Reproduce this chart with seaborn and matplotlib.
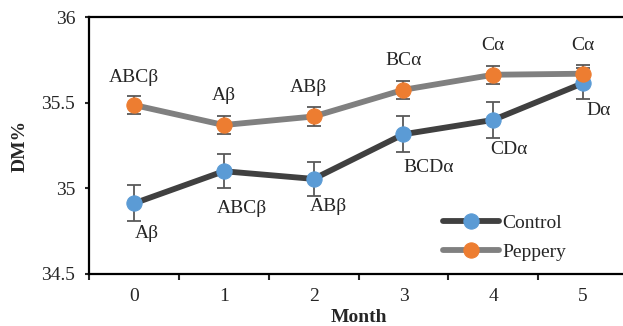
import numpy as np
import pandas as pd
import seaborn as sns
import matplotlib
matplotlib.use("Agg")
import matplotlib.pyplot as plt
from matplotlib.ticker import FixedLocator

months = [0, 1, 2, 3, 4, 5]
control = [34.912, 35.10, 35.055, 35.316, 35.40, 35.615]
control_err = [0.105, 0.10, 0.10, 0.105, 0.105, 0.09]
peppery = [35.487, 35.37, 35.42, 35.576, 35.664, 35.67]
peppery_err = [0.052, 0.053, 0.054, 0.053, 0.052, 0.05]
control_labels = ["Aβ", "ABCβ", "ABβ", "BCDα", "CDα", "Dα"]
peppery_labels = ["ABCβ", "Aβ", "ABβ", "BCα", "Cα", "Cα"]

sns.set_style("ticks")
plt.rcParams['font.family'] = ['Liberation Serif', 'DejaVu Serif']
plt.rcParams['font.size'] = 14

df = pd.DataFrame({"Month": months * 2,
                   "DM": control + peppery,
                   "Group": ["Control"] * 6 + ["Peppery"] * 6})

fig = plt.figure(figsize=(6.23, 3.26), dpi=100)
ax = fig.add_axes([0.143, 0.16, 0.865, 0.787])

# error bars behind the lines
ax.errorbar(months, control, yerr=control_err, fmt='none', ecolor='#595959',
            elinewidth=1.3, capsize=5, capthick=1.3, zorder=1)
ax.errorbar(months, peppery, yerr=peppery_err, fmt='none', ecolor='#595959',
            elinewidth=1.3, capsize=5, capthick=1.3, zorder=1)

sns.lineplot(data=df[df.Group == "Control"], x="Month", y="DM", ax=ax,
             color='#404040', linewidth=4.2, marker='o', markersize=11,
             markerfacecolor='#5B9BD5', markeredgecolor='#5B9BD5',
             label="Control", zorder=3)
sns.lineplot(data=df[df.Group == "Peppery"], x="Month", y="DM", ax=ax,
             color='#808080', linewidth=4.2, marker='o', markersize=11,
             markerfacecolor='#ED7D31', markeredgecolor='#ED7D31',
             label="Peppery", zorder=4)

# letters
c_off = [(9, -22), (13, -27), (11, -20), (18, -24), (11, -21), (11, -20)]
p_off = [(0, 20), (0, 21), (-4, 21), (0, 21), (0, 21), (0, 20)]
for i, m in enumerate(months):
    ax.annotate(control_labels[i], (m, control[i]), xytext=c_off[i],
                textcoords='offset points', ha='center', va='center', fontsize=14)
    ax.annotate(peppery_labels[i], (m, peppery[i]), xytext=p_off[i],
                textcoords='offset points', ha='center', va='center', fontsize=14)

ax.set_xlim(-0.5, 5.5)
ax.set_ylim(34.5, 36)
ax.set_yticks([34.5, 35, 35.5, 36])
ax.set_yticklabels(["34.5", "35", "35.5", "36"])
ax.set_xticks(months)
ax.set_xticklabels([str(m) for m in months])
ax.xaxis.set_minor_locator(FixedLocator(np.arange(-0.5, 5.6, 1)))
ax.tick_params(axis='x', which='major', length=0, pad=10, labelsize=14)
ax.tick_params(axis='x', which='minor', length=4, width=1.5, direction='out')
ax.tick_params(axis='y', length=3, width=1.5, pad=7, labelsize=14)

for s in ['left', 'bottom', 'top']:
    ax.spines[s].set_linewidth(1.6)
    ax.spines[s].set_color('black')
    ax.spines[s].set_visible(True)
ax.spines['right'].set_visible(False)

ax.set_xlabel("Month", fontweight='bold', fontsize=14, labelpad=3)
ax.set_ylabel("DM%", fontweight='bold', fontsize=14, labelpad=9)

ax.legend(loc='upper left', bbox_to_anchor=(0.643, 0.262), frameon=False,
          handlelength=2.85, handletextpad=0.2, labelspacing=0.6,
          borderaxespad=0, fontsize=14)

fig.savefig("out.png", dpi=100)
